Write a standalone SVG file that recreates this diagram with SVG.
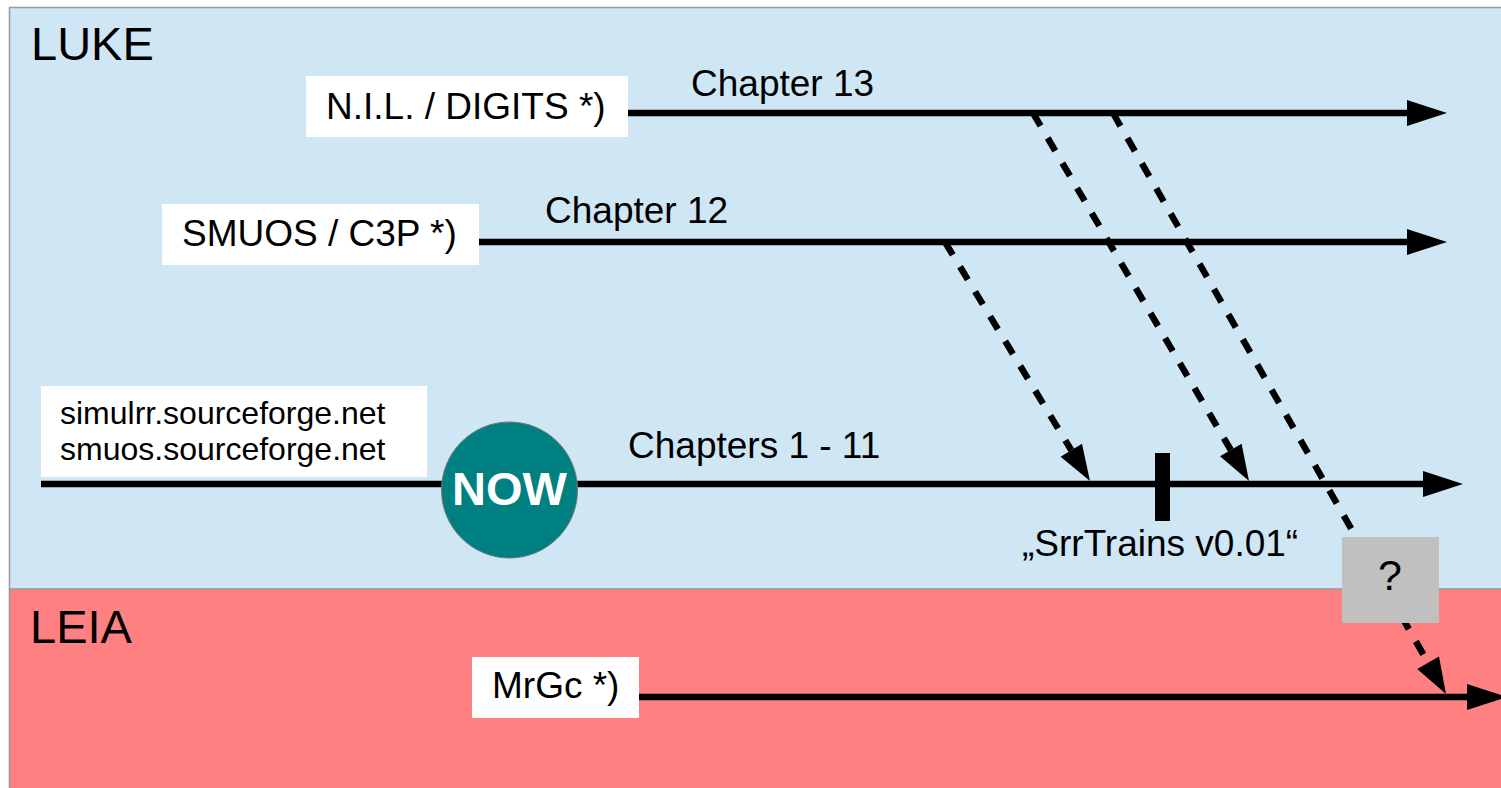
<svg xmlns="http://www.w3.org/2000/svg" width="1501" height="788" viewBox="0 0 1501 788">
<style>
.lbl{font-family:"Liberation Sans",Arial,sans-serif;font-size:37px;fill:#000}
.small{font-family:"Liberation Sans",Arial,sans-serif;font-size:32px;fill:#000}
.big{font-family:"Liberation Sans",Arial,sans-serif;font-size:47px;fill:#000}
.box{fill:#ffffff}
.main{stroke:#000;stroke-width:6.5;fill:none;marker-end:url(#ah)}
.dash{stroke:#000;stroke-width:6.5;fill:none;stroke-dasharray:15 14;marker-end:url(#dh)}
</style>
<defs>
<marker id="ah" markerUnits="userSpaceOnUse" markerWidth="40" markerHeight="26" refX="0" refY="13" orient="auto" overflow="visible">
<path d="M0,0 L40,13 L0,26 z" fill="#000"/>
</marker>
<marker id="dh" markerUnits="userSpaceOnUse" markerWidth="36" markerHeight="25" refX="0" refY="12.5" orient="auto" overflow="visible">
<path d="M0,0 L36,12.5 L0,25 z" fill="#000"/>
</marker>
</defs>

<g id="lane-luke">
<rect x="9.5" y="7.5" width="1493" height="582" fill="#cfe6f4" stroke="#999" stroke-width="1.5"/>
<text class="big" x="31" y="60">LUKE</text>
</g>
<g id="lane-leia">
<rect x="9.5" y="589" width="1493" height="201" fill="#ff8080" stroke="#999" stroke-width="1.5"/>
<text class="big" x="30" y="643">LEIA</text>
</g>

<g id="connectors">
<line class="main" x1="628" y1="113" x2="1407" y2="113"/>
<line class="main" x1="479" y1="242" x2="1407" y2="242"/>
<line class="main" x1="41" y1="484" x2="1423" y2="484"/>
<line class="main" x1="639" y1="697" x2="1467" y2="697"/>
<line class="dash" x1="945" y1="242" x2="1071.3" y2="450.2"/>
<line class="dash" x1="1033" y1="113" x2="1230.8" y2="450"/>
<line class="dash" x1="1113" y1="113" x2="1428.1" y2="662.8"/>
<text class="lbl" x="691" y="96">Chapter 13</text>
<text class="lbl" x="545" y="223">Chapter 12</text>
<text class="lbl" x="628" y="458">Chapters 1 - 11</text>
</g>

<g id="node-nil">
<rect class="box" x="306" y="76" width="322" height="61"/>
<text class="lbl" x="326" y="119">N.I.L. / DIGITS *)</text>
</g>
<g id="node-smuos">
<rect class="box" x="162" y="204" width="317" height="61"/>
<text class="lbl" x="182" y="246">SMUOS / C3P *)</text>
</g>
<g id="node-sites">
<rect class="box" x="41" y="386" width="386" height="91"/>
<text class="small" x="60" y="424">simulrr.sourceforge.net</text>
<text class="small" x="60" y="460">smuos.sourceforge.net</text>
</g>
<g id="node-now">
<circle cx="509.5" cy="490" r="68" fill="#008080" stroke="#777" stroke-width="1"/>
<text x="509.5" y="505" text-anchor="middle" font-family="Liberation Sans, Arial, sans-serif" font-size="47" font-weight="bold" fill="#fff">NOW</text>
</g>
<g id="node-release">
<rect x="1155" y="453" width="15" height="68" fill="#000"/>
<text class="lbl" x="1022" y="556">„SrrTrains v0.01“</text>
</g>
<g id="node-question">
<rect x="1342" y="537" width="97" height="86" fill="#c0c0c0"/>
<text x="1390" y="590" text-anchor="middle" font-family="Liberation Sans, Arial, sans-serif" font-size="43" fill="#000">?</text>
</g>
<g id="node-mrgc">
<rect class="box" x="472" y="657" width="167" height="61"/>
<text class="lbl" x="492" y="698">MrGc *)</text>
</g>
</svg>
